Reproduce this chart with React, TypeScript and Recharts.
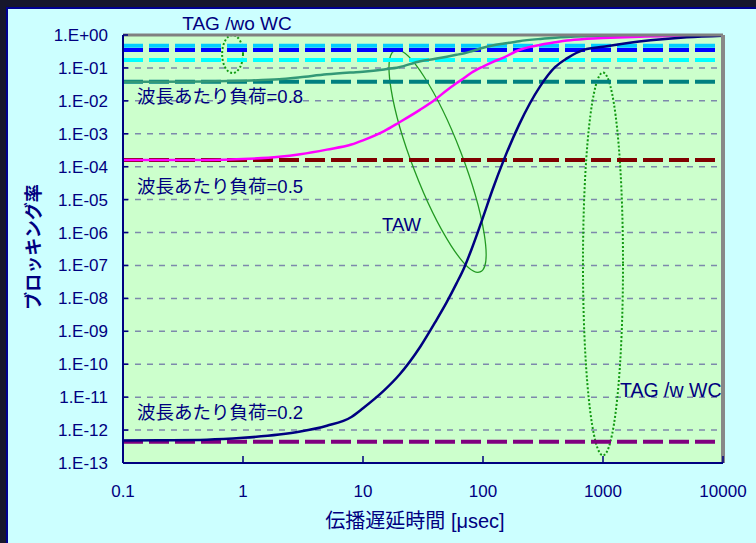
import React from 'react';
import {
  ComposedChart,
  Line,
  XAxis,
  YAxis,
  CartesianGrid,
  ReferenceLine,
  ReferenceArea,
  ReferenceDot,
  Label,
} from 'recharts';

// propagation delay [usec]
const delays = [0.1, 0.2, 0.5, 1, 2, 3, 5, 8, 10, 15, 20, 30, 40, 50, 60, 70, 80, 100, 120, 150, 200, 300, 400, 500, 700, 1000, 2000, 5000, 10000];

// TAW blocking probability, load per wavelength = 0.8
const load08 = [0.038, 0.038, 0.039, 0.041, 0.045, 0.052, 0.064, 0.073, 0.077, 0.09, 0.105, 0.16, 0.19, 0.22, 0.25, 0.28, 0.32, 0.41, 0.48, 0.55, 0.65, 0.76, 0.83, 0.87, 0.91, 0.93, 0.97, 0.99, 1.0];
// load per wavelength = 0.5
const load05 = [1.6e-4, 1.6e-4, 1.6e-4, 1.7e-4, 2.0e-4, 2.4e-4, 3.3e-4, 4.7e-4, 6.3e-4, 1.2e-3, 2.2e-3, 5.4e-3, 1.1e-2, 2.1e-2, 3.4e-2, 5.0e-2, 7.1e-2, 0.11, 0.15, 0.21, 0.35, 0.5, 0.6, 0.68, 0.76, 0.81, 0.89, 0.95, 1.0];
// load per wavelength = 0.2
const load02 = [4.8e-13, 4.9e-13, 5.1e-13, 5.8e-13, 7.3e-13, 9.0e-13, 1.35e-12, 2.5e-12, 4.6e-12, 1.6e-11, 4.7e-11, 3.4e-10, 1.9e-9, 7.8e-9, 2.8e-8, 8.9e-8, 3.0e-7, 2.9e-6, 2.0e-5, 1.7e-4, 1.9e-3, 2.8e-2, 0.107, 0.195, 0.36, 0.44, 0.63, 0.85, 0.95];

// TAG reference levels (dashed horizontal lines)
const tagLevels = [0.47, 0.35, 0.175, 0.038, 1.6e-4, 4.4e-13];
const tagColors = ['#00ccff', '#0000ff', '#00ffff', '#008080', '#800000', '#800080'];

const xTicks = [0.1, 1, 10, 100, 1000, 10000];
const xTickLabels = ['0.1', '1', '10', '100', '1000', '10000'];
const yTicks = [1, 1e-1, 1e-2, 1e-3, 1e-4, 1e-5, 1e-6, 1e-7, 1e-8, 1e-9, 1e-10, 1e-11, 1e-12, 1e-13];
const yTickLabels = ['1.E+00', '1.E-01', '1.E-02', '1.E-03', '1.E-04', '1.E-05', '1.E-06', '1.E-07', '1.E-08', '1.E-09', '1.E-10', '1.E-11', '1.E-12', '1.E-13'];

// annotation texts and their anchor (data coordinates)
const noteTexts = ['TAG /wo WC', '波長あたり負荷=0.8', '波長あたり負荷=0.5', 'TAW', '波長あたり負荷=0.2', 'TAG /w WC'];
const noteX = [0.89, 0.131, 0.131, 14.4, 0.131, 1386];
const noteY = [2.2, 0.0132, 2.5e-5, 1.7e-6, 3.5e-12, 1.6e-11];
const noteAnchor = ['middle', 'start', 'start', 'start', 'start', 'start'];
const noteSize = [19, 18.5, 18.5, 18.5, 18.5, 19.5];

// annotation ellipses: bounding boxes in data coordinates
const ellX1 = [0.67, 16.5, 681];
const ellX2 = [1.0, 106, 1468];
const ellY1 = [0.07, 6.2e-8, 1.7e-13];
const ellY2 = [1.0, 0.35, 0.072];
const ellAngle = [0, -21, 0];
const ellDotted = [true, false, true];

const NAVY = '#000080';
const LATIN = "'Liberation Sans', Arial, sans-serif";
const MIXED = "'Liberation Sans', 'Noto Sans CJK JP', sans-serif";

const toSeries = (vals: number[]) => delays.map((d, i) => ({ x: d, v: vals[i] }));
const s08 = toSeries(load08);
const s05 = toSeries(load05);
const s02 = toSeries(load02);

const makeEllipse = (angle: number, dotted: boolean) => (p: any) => {
  const w = Math.abs(p.width || 0);
  const h = Math.abs(p.height || 0);
  const cx = p.x + (p.width || 0) / 2;
  const cy = p.y + (p.height || 0) / 2;
  let rx = w / 2;
  let ry = h / 2;
  let transform: string | undefined;
  if (angle) {
    const X = rx;
    const Y = ry;
    const phi = (Math.abs(angle) * Math.PI) / 180;
    const c2 = Math.cos(2 * phi);
    const s = X * X + Y * Y;
    const d = (Y * Y - X * X) / c2;
    ry = Math.sqrt((s + d) / 2);
    rx = Math.sqrt(Math.max((s - d) / 2, 1));
    transform = `rotate(${angle} ${cx} ${cy})`;
  }
  return (
    <ellipse
      cx={cx}
      cy={cy}
      rx={rx}
      ry={ry}
      transform={transform}
      fill="none"
      stroke={dotted ? '#119911' : '#229922'}
      strokeWidth={dotted ? 2 : 1.3}
      strokeDasharray={dotted ? '2 2' : undefined}
    />
  );
};

const makeNote = (text: string, anchor: string, size: number) => (props: any) => {
  const vb = props.viewBox || {};
  return (
    <text
      x={vb.x}
      y={vb.y}
      textAnchor={anchor as any}
      dominantBaseline="central"
      fill={NAVY}
      fontSize={size}
      fontFamily={MIXED}
    >
      {text}
    </text>
  );
};

export default function App() {
  return (
    <div style={{ position: 'absolute', left: 0, top: 0, width: 756, height: 543, background: '#17172c', overflow: 'hidden' }}>
      <div
        style={{
          position: 'absolute',
          left: 6,
          top: 7,
          right: 0,
          bottom: 0,
          background: '#ccffff',
          borderLeft: '2px solid #000090',
          borderTop: '2px solid #000090',
        }}
      />
      <div style={{ position: 'absolute', left: 0, top: 0 }}>
        <ComposedChart width={756} height={543} margin={{ top: 35, right: 33, bottom: 40, left: 23 }}>
          <CartesianGrid
            horizontal={true}
            vertical={false}
            fill="#ccffcc"
            fillOpacity={1}
            stroke="#7d89ab"
            strokeDasharray="6 6"
            strokeWidth={1.5}
          />
          <XAxis
            dataKey="x"
            type="number"
            scale="log"
            domain={[0.1, 10000]}
            ticks={xTicks}
            interval={0}
            allowDataOverflow
            height={40}
            tickSize={-7}
            tickMargin={29}
            tickFormatter={(v: number) => xTickLabels[xTicks.indexOf(v)] ?? String(v)}
            tick={{ fill: NAVY, fontSize: 17, fontFamily: LATIN }}
            axisLine={{ stroke: NAVY, strokeWidth: 2 }}
            tickLine={{ stroke: NAVY, strokeWidth: 1.5 }}
          >
            <Label
              content={(props: any) => {
                const vb = props.viewBox || {};
                return (
                  <text
                    x={vb.x + vb.width / 2 - 8}
                    y={vb.y + 65}
                    textAnchor="middle"
                    fill={NAVY}
                    fontSize={20}
                    fontFamily={MIXED}
                  >
                    伝播遅延時間 [μsec]
                  </text>
                );
              }}
            />
          </XAxis>
          <YAxis
            type="number"
            scale="log"
            domain={[1e-13, 1]}
            ticks={yTicks}
            interval={0}
            allowDataOverflow
            width={100}
            tickSize={-5}
            tickMargin={20}
            tickFormatter={(v: number) => yTickLabels[yTicks.indexOf(v)] ?? String(v)}
            tick={{ fill: NAVY, fontSize: 17, fontFamily: LATIN }}
            axisLine={{ stroke: NAVY, strokeWidth: 2 }}
            tickLine={{ stroke: NAVY, strokeWidth: 1.5 }}
          >
            <Label
              content={(props: any) => {
                const vb = props.viewBox || {};
                const cx = vb.x + 11;
                const cy = vb.y + vb.height / 2 - 2;
                return (
                  <text
                    x={cx}
                    y={cy}
                    textAnchor="middle"
                    dominantBaseline="central"
                    transform={`rotate(-90 ${cx} ${cy})`}
                    fill={NAVY}
                    fontSize={18}
                    fontWeight="bold"
                    fontFamily={MIXED}
                  >
                    ブロッキング率
                  </text>
                );
              }}
            />
          </YAxis>

          {tagLevels.map((lv, i) => (
            <ReferenceLine
              key={'tag' + i}
              y={lv}
              stroke={tagColors[i]}
              strokeWidth={4}
              strokeDasharray="20 6"
              ifOverflow="visible"
            />
          ))}

          <Line data={s08} dataKey="v" type="monotone" stroke="#339977" strokeWidth={2.5} dot={false} isAnimationActive={false} />
          <Line data={s05} dataKey="v" type="monotone" stroke="#ff00ff" strokeWidth={2.5} dot={false} isAnimationActive={false} />
          <Line data={s02} dataKey="v" type="monotone" stroke="#000080" strokeWidth={2.5} dot={false} isAnimationActive={false} />

          {ellX1.map((x1, i) => (
            <ReferenceArea
              key={'ell' + i}
              x1={x1}
              x2={ellX2[i]}
              y1={ellY1[i]}
              y2={ellY2[i]}
              ifOverflow="visible"
              shape={makeEllipse(ellAngle[i], ellDotted[i])}
            />
          ))}

          <ReferenceLine y={1} stroke="#808080" strokeWidth={3} ifOverflow="visible" />
          <ReferenceLine x={10000} stroke="#888888" strokeWidth={4} ifOverflow="visible" />

          {noteTexts.map((t, i) => (
            <ReferenceDot
              key={'note' + i}
              x={noteX[i]}
              y={noteY[i]}
              r={0}
              fill="none"
              stroke="none"
              ifOverflow="visible"
              label={makeNote(t, noteAnchor[i], noteSize[i])}
            />
          ))}
        </ComposedChart>
      </div>
    </div>
  );
}
